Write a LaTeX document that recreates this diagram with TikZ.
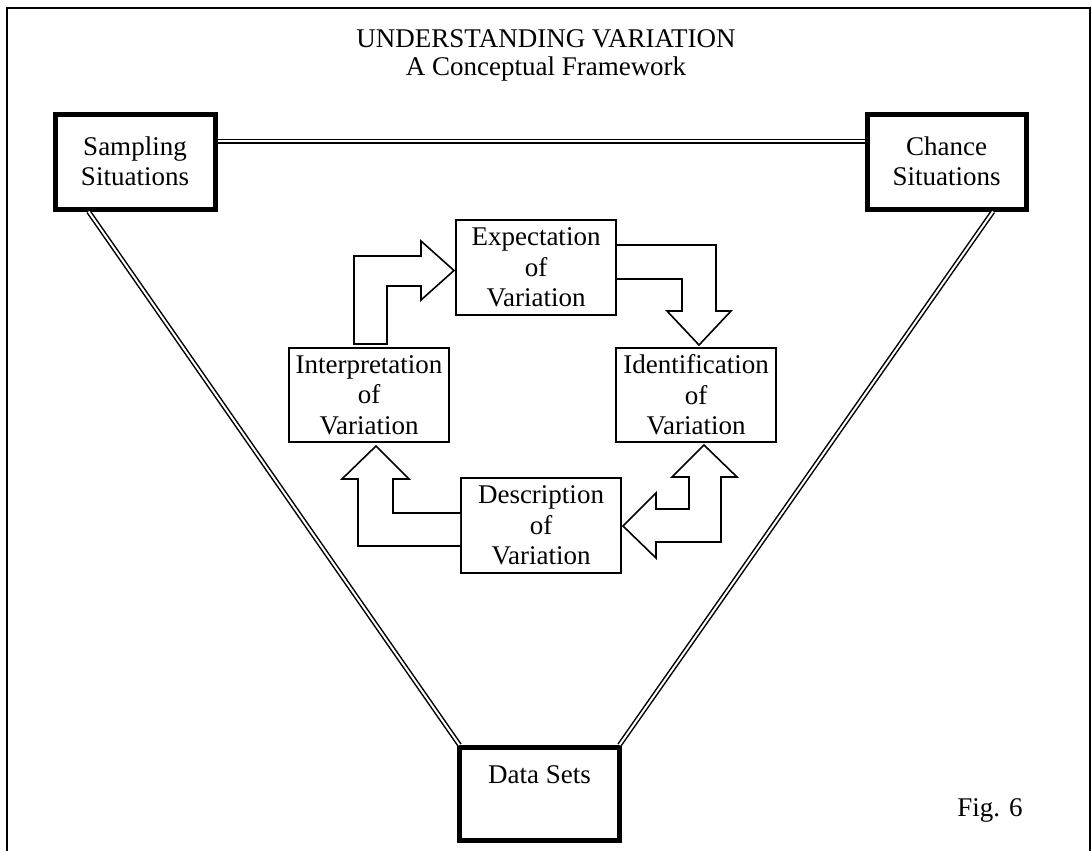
\documentclass[tikz,border=0pt]{standalone}
\usepackage{fontspec}
\setmainfont{Liberation Serif}
\usetikzlibrary{calc}
\begin{document}
\begin{tikzpicture}[x=1pt,y=-1pt,
  every node/.style={font=\fontsize{27}{30.5}\selectfont},
  thickbox/.style={draw,line width=5pt,fill=white,minimum width=160pt,minimum height=95pt,inner sep=0pt,align=center},
  thinbox/.style={draw,line width=1.6pt,fill=white,minimum width=160pt,minimum height=95pt,inner sep=0pt,align=center},
  dbl/.style={draw,line width=1.5pt,double=white,double distance=2pt},
  blockarrow/.style={draw,line width=1.6pt,fill=white,miter limit=10}]
\useasboundingbox (0,0) rectangle (1092,851);
% frame
\draw[line width=2pt] (7,860) -- (7,8) -- (1090,8) -- (1090,860);
% title
\node[anchor=base] (t1) at (546,48) {UNDERSTANDING VARIATION};
\node[anchor=base] (t2) at (546,75) {A Conceptual Framework};
% outer boxes
\node[thickbox] (samp) at (135,161.5) {Sampling\\Situations};
\node[thickbox,minimum width=159pt] (chance) at (946.5,161.5) {Chance\\Situations};
\node[thickbox,minimum height=93pt] (data) at (539.5,794) {};
\node[anchor=base] (datat) at (539.5,783) {Data Sets};
% double connectors
\draw[dbl] ([yshift=20.5pt]samp.east) -- ([yshift=20.5pt]chance.west);
\draw[dbl] ($(samp.south west)+(36,0)$) -- ($(data.north west)+(2.5,0)$);
\draw[dbl] ($(chance.south east)+(-35.5,0)$) -- ($(data.north east)+(-2.5,0)$);
% inner boxes
\node[thinbox] (expect) at (536,267.5) {Expectation\\of\\Variation};
\node[thinbox,minimum height=94pt] (interp) at (369,395) {Interpretation\\of\\Variation};
\node[thinbox,minimum height=94pt] (ident) at (696,395) {Identification\\of\\Variation};
\node[thinbox] (desc) at (541,525.5) {Description\\of\\Variation};
% block arrows
\draw[blockarrow] (354,344) -- (354,256) -- (421,256) -- (421,241) -- (454,270.5) -- (421,300) -- (421,286) -- (387,286) -- (387,344) -- cycle;
\draw[blockarrow] (617,245) -- (716,245) -- (716,311) -- (731,311) -- (699,345) -- (667,311) -- (682,311) -- (682,279) -- (617,279);
\draw[blockarrow] (623,526) -- (656,493) -- (656,509) -- (689,509) -- (689,477) -- (672,477) -- (704,445) -- (737,477) -- (721,477) -- (721,542) -- (656,542) -- (656,558) -- cycle;
\draw[blockarrow] (460,513) -- (393,513) -- (393,479) -- (409,479) -- (376,446) -- (342,479) -- (358,479) -- (358,546) -- (460,546);
% fig label
\node[anchor=base] (fig) at (990,816) {Fig. 6};
\end{tikzpicture}
\end{document}
